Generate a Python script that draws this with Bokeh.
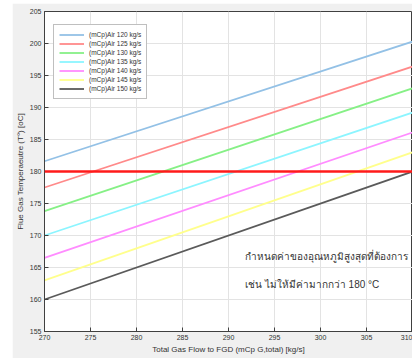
from bokeh.plotting import figure
from bokeh.models import Legend, LegendItem, Label, Span, FixedTicker
from bokeh.embed import file_html
from bokeh.resources import INLINE

# ---- data ----
flow = [270, 310]
series_names = ["(mCp)Air 120 kg/s", "(mCp)Air 125 kg/s", "(mCp)Air 130 kg/s",
                "(mCp)Air 135 kg/s", "(mCp)Air 140 kg/s", "(mCp)Air 145 kg/s",
                "(mCp)Air 150 kg/s"]
t_120 = [181.6, 200.3]
t_125 = [177.5, 196.4]
t_130 = [173.8, 193.0]
t_135 = [170.0, 189.2]
t_140 = [166.5, 186.1]
t_145 = [163.0, 183.0]
t_150 = [160.0, 180.0]
limit_temp = 180
x_ticks = [270, 275, 280, 285, 290, 295, 300, 305, 310]
y_ticks = [155, 160, 165, 170, 175, 180, 185, 190, 195, 200, 205]
note_line1 = "กำหนดค่าของอุณหภูมิสูงสุดที่ต้องการ"
note_line2 = "เช่น ไม่ให้มีค่ามากกว่า 180 °C"

series = [t_120, t_125, t_130, t_135, t_140, t_145, t_150]
colors = ["#93c1e6", "#ff8a8a", "#86f086", "#8cf5ff", "#ff8cff", "#ffff8c", "#5a5a5a"]

font = "Liberation Sans"

p = figure(width=400, height=355, x_range=(270, 310), y_range=(155, 205),
           output_backend="svg", toolbar_location=None,
           min_border_left=32, min_border_right=0, min_border_top=8, min_border_bottom=27)
p.margin = (3, 0, 0, 12)
p.background_fill_color = "white"
p.border_fill_color = "#f0f0f0"
p.outline_line_color = "#404040"
p.outline_line_width = 1

p.xaxis.ticker = FixedTicker(ticks=x_ticks)
p.yaxis.ticker = FixedTicker(ticks=y_ticks)
for ax in (p.xaxis[0], p.yaxis[0]):
    ax.axis_line_color = "#404040"
    ax.major_tick_line_color = "#404040"
    ax.major_tick_in = 4
    ax.major_tick_out = 0
    ax.minor_tick_line_color = None
    ax.major_label_text_font = font
    ax.major_label_text_font_size = "7px"
    ax.major_label_text_color = "#333333"
    ax.axis_label_text_font = font
    ax.axis_label_text_font_size = "8px"
    ax.axis_label_text_font_style = "normal"
    ax.axis_label_text_color = "#333333"
    ax.major_label_standoff = 3
    ax.axis_label_standoff = 2

p.xaxis.axis_label = "Total Gas Flow to FGD (mCp G,total) [kg/s]"
p.yaxis.axis_label = "Flue Gas Temperaeutre (T°) [oC]"

p.grid.grid_line_color = "#e3e3e3"
p.grid.grid_line_width = 1

items = []
for name, ys, c in zip(series_names, series, colors):
    r = p.line(flow, ys, line_color=c, line_width=1.8)
    items.append(LegendItem(label=name, renderers=[r]))

p.add_layout(Span(location=limit_temp, dimension="width", line_color="#ff1a1a", line_width=2.5))

legend = Legend(items=items, location=(9, 232))
legend.label_text_font = font
legend.label_text_font_size = "6.5px"
legend.label_text_color = "#333333"
legend.label_height = 9
legend.glyph_height = 9
legend.glyph_width = 25
legend.spacing = 0
legend.padding = 5
legend.margin = 0
legend.label_standoff = 5
legend.border_line_color = "#808080"
legend.border_line_width = 1
legend.background_fill_color = "white"
p.add_layout(legend, "center")

p.add_layout(Label(x=291.8, y=166.7, text=note_line1, text_font=font, text_font_size="10px",
                   text_color="#333333", text_baseline="middle"))
p.add_layout(Label(x=291.8, y=162.3, text=note_line2, text_font=font, text_font_size="10px",
                   text_color="#333333", text_baseline="middle"))

open("out.html", "w").write(file_html(p, INLINE))
